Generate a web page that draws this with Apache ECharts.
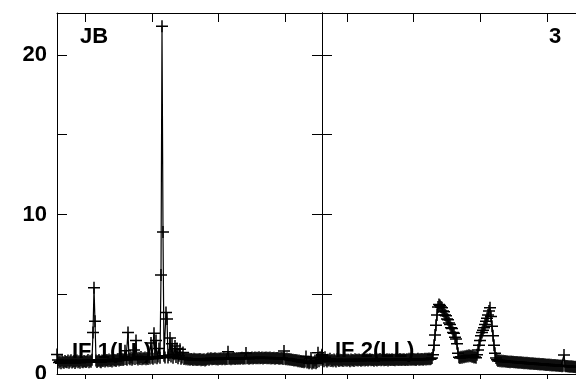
<!DOCTYPE html>
<html>
<head>
<meta charset="utf-8">
<script src="https://cdn.jsdelivr.net/npm/echarts@6/dist/echarts.min.js"></script>
<style>
html,body{margin:0;padding:0;background:#fff;}
#chart{width:576px;height:379px;}
</style>
</head>
<body>
<div id="chart"></div>
<script>
// Panel 1 (IF 1(LL)) flux, one sample per channel
const leftFlux = [
1.22,0.88,0.72,0.8,0.68,0.84,0.74,0.7,0.82,0.76,
0.73,0.84,0.7,0.78,0.86,0.72,0.77,0.81,0.69,0.79,
0.84,0.74,0.8,0.71,0.86,0.77,0.73,0.82,0.78,0.75,
0.8,0.87,0.74,0.83,0.77,0.89,2.6,5.4,3.3,0.84,
0.76,0.82,0.88,0.79,0.74,0.85,0.81,0.9,0.78,0.84,
0.87,0.8,0.91,0.82,0.86,0.79,0.93,0.84,0.88,0.81,
0.89,0.94,0.84,0.91,0.87,0.96,0.88,0.93,1.45,0.94,
0.9,2.6,0.99,0.92,1.04,0.89,0.97,1.5,0.94,2.1,
0.98,0.91,1.02,0.94,1.06,0.92,0.99,0.96,1.04,0.93,
1.0,0.94,1.06,0.97,1.95,1.02,0.96,2.55,1.04,2.1,
0.99,1.09,1.6,1.02,6.2,21.8,8.9,1.14,1.04,3.85,
3.45,1.04,1.19,2.25,1.09,1.9,1.02,1.24,1.75,1.06,
1.6,0.99,1.14,1.55,0.96,1.04,1.35,0.94,1.0,0.92,
0.98,0.91,0.96,0.89,0.94,0.92,0.88,0.95,0.9,0.93,
0.87,0.92,0.89,0.94,0.86,0.91,0.88,0.93,0.85,0.9,
0.93,0.97,0.9,0.95,0.98,0.92,0.96,0.94,0.99,0.93,
0.96,0.91,0.97,0.94,0.99,0.92,0.95,0.98,0.93,0.97,
0.94,1.4,0.96,0.99,0.93,0.98,0.95,1.0,0.94,0.97,
0.99,0.95,1.01,0.96,0.98,1.02,0.95,1.0,0.97,1.32,
0.98,1.02,0.96,1.01,0.99,1.03,0.97,1.0,1.04,0.98,
1.02,0.99,1.05,0.98,1.01,1.03,0.97,1.02,1.0,1.04,
0.98,1.02,0.99,1.03,0.97,1.01,0.99,1.02,0.96,1.0,
0.98,1.01,0.95,0.99,0.97,1.0,0.94,1.44,0.96,0.93,
0.97,0.91,0.94,0.89,0.92,0.87,0.9,0.85,0.88,0.84,
0.86,0.8,0.84,0.78,0.82,0.76,0.8,0.74,0.79,1.1,
0.72,0.77,0.68,0.74,1.0,0.66,0.73,0.7,0.85,0.67,
0.75,1.33,0.8,1.05,0.9,1.2
];
// Panel 2 (IF 2(LL)) flux, one sample per channel
const rightFlux = [
1.15,0.92,0.8,1.05,0.86,0.78,0.9,0.84,0.95,0.82,
0.88,0.8,0.91,0.85,0.79,0.93,0.86,0.82,0.9,0.84,
0.87,0.81,0.92,0.85,0.89,0.83,0.9,0.86,0.8,0.91,
0.85,0.88,0.82,0.93,0.86,0.89,0.84,0.91,0.87,0.83,
0.9,0.86,0.92,0.84,0.88,0.91,0.85,0.89,0.93,0.86,
0.9,0.87,0.83,0.92,0.88,0.85,0.91,0.87,0.94,0.86,
0.89,0.92,0.86,0.9,0.88,0.93,0.85,0.91,0.89,0.87,
0.92,0.88,0.9,0.86,0.93,0.89,0.91,0.87,0.94,0.88,
0.91,0.89,0.93,0.87,0.9,0.92,0.88,0.95,0.9,0.92,
0.89,0.94,0.9,0.93,0.88,0.92,0.95,0.9,0.93,0.91,
0.94,0.9,0.93,0.96,0.91,0.95,0.92,0.97,0.93,0.96,1.0,
1.2,1.8,2.45,3.05,3.7,4.2,4.35,4.3,
4.2,4.15,3.95,3.9,3.7,3.65,3.45,3.4,3.2,3.1,2.9,2.85,2.6,2.55,2.3,2.2,1.9,1.3,1.05,
1.0,1.08,1.02,1.1,1.05,1.12,1.08,1.15,1.1,1.18,1.12,1.15,1.08,1.1,1.04,1.07,1.02,
1.2,1.5,1.8,2.1,2.4,2.6,2.75,2.9,3.1,3.3,3.5,3.7,3.95,4.15,3.6,3.0,2.4,1.8,1.3,1.0,
0.9,0.82,0.86,0.8,0.84,0.78,0.83,0.79,0.81,0.77,
0.8,0.76,0.79,0.74,0.78,0.75,0.77,0.73,0.76,0.72,
0.75,0.71,0.74,0.7,0.73,0.69,0.72,0.68,0.71,0.67,
0.7,0.66,0.69,0.65,0.68,0.64,0.67,0.63,0.66,0.62,
0.65,0.61,0.64,0.6,0.63,0.59,0.62,0.58,0.61,0.57,
0.6,0.56,0.59,0.55,0.58,0.54,0.57,0.53,0.56,0.52,
0.55,0.51,0.54,0.5,0.53,0.49,0.52,1.19,0.51,0.48,
0.5,0.47,0.49,0.46,0.48,0.45,0.47,0.44,0.46,0.43
];
const channelMax = 265;
const xTicksLeft = [28, 95, 161, 228];
const xTicksRight = [25, 91, 158, 225];
const yMax = 22.63;
const yTicks = [0, 5, 10, 15, 20];
const yLabels = [0, 10, 20];
const panelNames = ['JB', '3'];
const orderNames = ['IF 1(LL)', 'IF 2(LL)'];

const FONT = '"Liberation Sans", Arial, sans-serif';
const toPairs = arr => arr.map((v, i) => [i, v]);
const plus = 'path://M6,0L6,12M0,6L12,6';

function xAx(grid, pos, ticks) {
  return {
    type: 'value', gridIndex: grid, position: pos, min: 0, max: channelMax,
    axisLine: { show: true, onZero: false, lineStyle: { color: '#000', width: 1 } },
    axisTick: { show: true, inside: pos === 'top', length: 9, customValues: ticks, lineStyle: { color: '#000' } },
    axisLabel: { show: false }, splitLine: { show: false }
  };
}
function yAx(grid, pos, labels) {
  return {
    type: 'value', gridIndex: grid, position: pos, min: 0, max: yMax,
    axisLine: { show: true, onZero: false, lineStyle: { color: '#000', width: 1 } },
    axisTick: { show: true, inside: true, length: 10, customValues: yTicks, lineStyle: { color: '#000' } },
    axisLabel: labels ? { show: true, customValues: yLabels, margin: 10, fontSize: 22, fontWeight: 'bold', color: '#000', fontFamily: FONT } : { show: false },
    splitLine: { show: false }
  };
}
function ser(xi, yi, arr) {
  return {
    type: 'line', xAxisIndex: xi, yAxisIndex: yi, data: toPairs(arr),
    symbol: plus, symbolSize: 12, showSymbol: true, showAllSymbol: true,
    lineStyle: { color: '#000', width: 1.2 },
    itemStyle: { color: '#000', borderColor: '#000', borderWidth: 1.5 },
    z: 10, animation: false, silent: true
  };
}
function txt(x, y, s) {
  return { type: 'text', x: x, y: y, z: 0, style: { text: s, fill: '#000', font: 'bold 22px ' + FONT, textAlign: 'left', textVerticalAlign: 'middle', verticalAlign: 'middle' } };
}

const chart = echarts.init(document.getElementById('chart'), null, { renderer: 'canvas' });
chart.setOption({
  animation: false,
  backgroundColor: '#fff',
  grid: [
    { left: 57, top: 13, width: 265, height: 361, containLabel: false, outerBoundsMode: 'none' },
    { left: 322, top: 13, width: 265, height: 361, containLabel: false, outerBoundsMode: 'none' }
  ],
  xAxis: [xAx(0, 'bottom', xTicksLeft), xAx(0, 'top', xTicksLeft), xAx(1, 'bottom', xTicksRight), xAx(1, 'top', xTicksRight)],
  yAxis: [yAx(0, 'left', true), yAx(0, 'right', false), yAx(1, 'left', false), yAx(1, 'right', false)],
  graphic: [
    txt(80, 37, panelNames[0]),
    txt(549, 37, panelNames[1]),
    txt(72, 352, orderNames[0]),
    txt(335, 351, orderNames[1])
  ],
  series: [ser(0, 0, leftFlux), ser(2, 2, rightFlux)]
});
</script>
</body>
</html>
